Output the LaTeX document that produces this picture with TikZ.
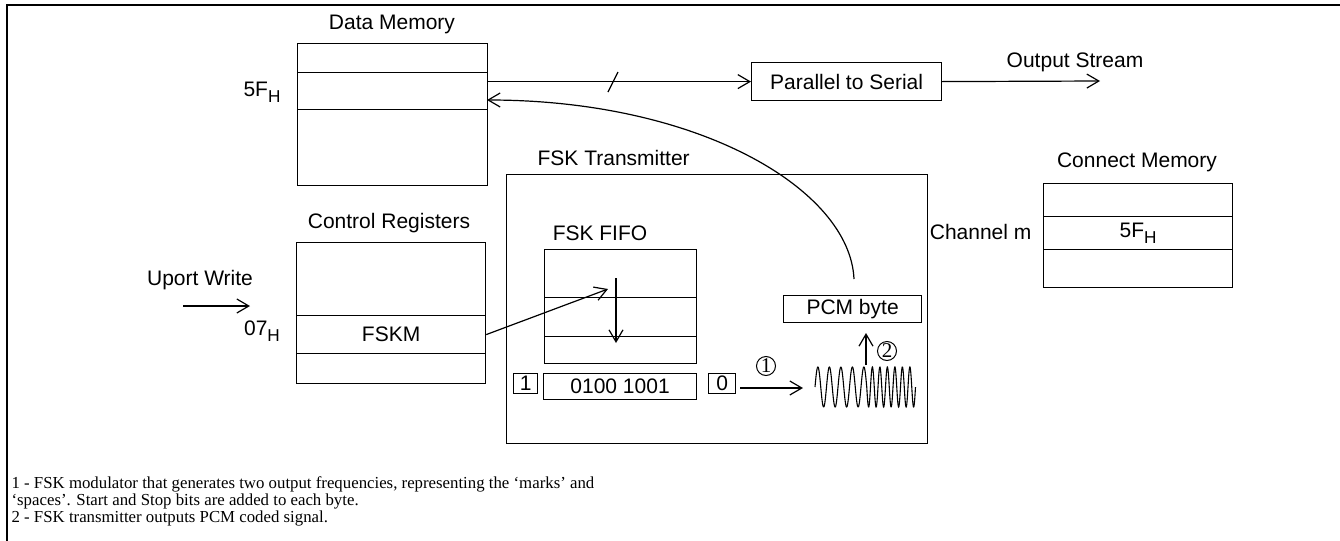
\documentclass[tikz,border=0pt]{standalone}
\usepackage{fontspec}
\setmainfont{Liberation Sans}
\newfontfamily\footfont{Liberation Serif}
\usetikzlibrary{arrows.meta}
\newcommand{\hsub}[1]{#1\raisebox{-0.55ex}{\fontsize{8.6pt}{9pt}\selectfont H}}
\begin{document}
\begin{tikzpicture}[x=0.5pt,y=-0.5pt,line width=0.6pt,
  >={Straight Barb[length=6pt,width=7pt]},
  font=\fontsize{10.5pt}{12pt}\selectfont,
  cell/.style={draw,anchor=north west,inner sep=0pt,minimum width=#1},
  lbl/.style={inner sep=0pt},
  bitbox/.style={draw,anchor=north west,inner sep=0pt},
  circnum/.style={draw,circle,inner sep=0pt,minimum size=9.5pt,line width=0.5pt,font=\footfont\fontsize{10.5pt}{11pt}\selectfont}]
\useasboundingbox (0,0) rectangle (1340,541);
% outer frame
\draw (7,541) -- (7,5) -- (1340,5);

% Data Memory
\node[lbl] (dmt) at (392,24) {Data Memory};
\node[cell=95pt,minimum height=14.5pt] (dm1) at (297,43) {};
\node[cell=95pt,minimum height=18.5pt] (dm2) at (297,72) {};
\node[cell=95pt,minimum height=38pt] (dm3) at (297,109) {};
\node[lbl] (dm5f) at (262,92) {\hsub{5F}};

% Parallel to Serial
\node[draw,anchor=north west,inner sep=0pt,minimum width=95pt,minimum height=19pt] (p2s) at (751,62) {Parallel to Serial};
\coordinate (outend) at (1100,81);
\node[lbl] (ost) at (1075,62) {Output Stream};
\draw[->] (dm2.east |- p2s.west) -- (p2s.west);
\draw (608,92) -- (618,72);
\draw[->] (p2s.east) -- (outend);

% Connect Memory
\node[lbl] (cmt) at (1137,162) {Connect Memory};
\node[cell=94.5pt,minimum height=16.5pt] (cm1) at (1043,183) {};
\node[cell=94.5pt,minimum height=16.5pt] (cm2) at (1043,216) {\hsub{5F}};
\node[cell=94.5pt,minimum height=19pt] (cm3) at (1043,249) {};
\node[lbl,anchor=east] (chm) at (1032,232) {Channel m};

% Control Registers
\node[lbl] (crt) at (389,223) {Control Registers};
\node[cell=94.5pt,minimum height=36.5pt] (cr1) at (296,242) {};
\node[cell=94.5pt,minimum height=19pt] (cr2) at (296,315) {FSKM};
\node[cell=94.5pt,minimum height=15pt] (cr3) at (296,353) {};
\node[lbl] (c07) at (262,331) {\hsub{07}};
\node[lbl] (upw) at (200,280) {Uport Write};
\coordinate (upa) at (183,306);
\coordinate (upb) at (250,306);
\draw[->] (upa) -- (upb);

% FSK Transmitter
\node[lbl,anchor=west] (fskt) at (537,158) {FSK Transmitter};
\node[draw,anchor=north west,inner sep=0pt,minimum width=210.5pt,minimum height=134.5pt] (fsk) at (506,174) {};

% FSK FIFO
\node[lbl] (fifot) at (600,233) {FSK FIFO};
\node[cell=76pt,minimum height=24pt] (ff1) at (544,249) {};
\node[cell=76pt,minimum height=19.5pt] (ff2) at (544,297) {};
\node[cell=76pt,minimum height=13.5pt] (ff3) at (544,336) {};
\coordinate (ffin) at (608,289);
\draw[->] (cr2.east) -- (ffin);
\coordinate (ffa) at (616,278);
\coordinate (ffb) at (616,343);
\draw[->] (ffa) -- (ffb);

% bits
\node[bitbox,minimum width=12pt,minimum height=10pt] (b1) at (513,373) {1};
\node[bitbox,minimum width=76.5pt,minimum height=13pt] (bbyte) at (543,373) {0100 1001};
\node[bitbox,minimum width=13.5pt,minimum height=10pt] (b0) at (708,373) {0};
\coordinate (ma) at (740,388);
\coordinate (mb) at (803,388);
\draw[->] (ma) -- (mb);
\node[circnum] (n1) at (766,366) {1};

% wave
\draw[line width=0.55pt] plot[domain=815:866.75,samples=160] (\x,{387-20*sin(31.3043*(\x-815))})
  -- plot[domain=866.75:915.5,samples=200] (\x,{387-20*sin(180+48*(\x-866.75))});

% PCM byte
\node[draw,anchor=north west,inner sep=0pt,minimum width=69pt,minimum height=13.5pt] (pcm) at (783,295) {PCM byte};
\coordinate (wa) at (866,365);
\coordinate (wb) at (866,333);
\draw[->] (wa) -- (wb);
\node[circnum] (n2) at (887,351) {2};

% return curve
\coordinate (ps) at (854,279);
\coordinate (ret) at (487,100);
\draw[->] (ps) .. controls (850,190) and (700,100) .. (ret);

% footnotes
\node[anchor=north west,inner sep=0pt,align=left,font=\footfont\fontsize{8.4pt}{8.6pt}\selectfont] (foot) at (11,476)
{1 - FSK modulator that generates two output frequencies, representing the ‘marks’ and\\
‘spaces’. Start and Stop bits are added to each byte.\\
2 - FSK transmitter outputs PCM coded signal.};
\end{tikzpicture}
\end{document}
